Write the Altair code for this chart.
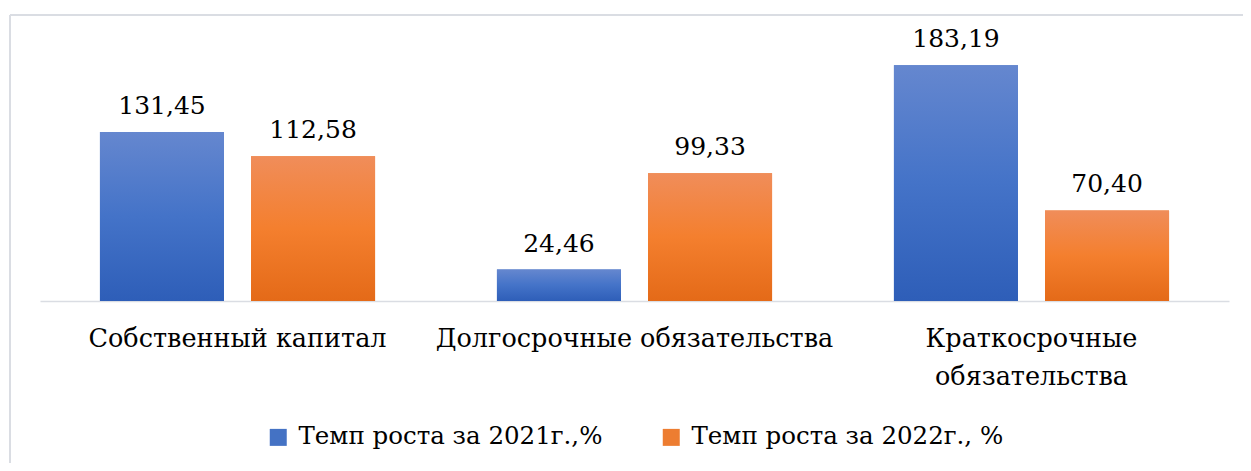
import altair as alt
import pandas as pd

categories = ["Собственный капитал", "Долгосрочные обязательства", "Краткосрочные обязательства"]
series = ["Темп роста за 2021г.,%", "Темп роста за 2022г., %"]
values_2021 = [131.45, 24.46, 183.19]
values_2022 = [112.58, 99.33, 70.40]

rows = []
for c, a, b in zip(categories, values_2021, values_2022):
    rows.append({"category": c, "series": series[0], "value": a})
    rows.append({"category": c, "series": series[1], "value": b})
df = pd.DataFrame(rows)

FONT = "DejaVu Serif"
BLUE = "#4472C4"
ORANGE = "#ED7D31"
FRAME = "#DADDE3"


def grad(top, mid, bottom):
    return alt.Gradient(
        gradient="linear",
        stops=[alt.GradientStop(color=top, offset=0),
               alt.GradientStop(color=mid, offset=0.5),
               alt.GradientStop(color=bottom, offset=1)],
        x1=0, x2=0, y1=0, y2=1)


blue_grad = grad("#6587CF", "#4473C8", "#2E5EB8")
orange_grad = grad("#F08D5A", "#F47F2E", "#E46A18")

x_enc = alt.X(
    "category:N", sort=categories,
    scale=alt.Scale(paddingInner=0.307, paddingOuter=0.151),
    axis=alt.Axis(title=None, labelFontSize=25.5, labelFont=FONT, labelColor="#000000",
                  labelAngle=0, domainColor=FRAME, domainWidth=1.5, ticks=False,
                  labelPadding=25, labelLimit=600, labelLineHeight=38,
                  labelExpr="datum.label == 'Краткосрочные обязательства' ? split(datum.label, ' ') : datum.label"))
xo_enc = alt.XOffset("series:N", sort=series,
                     scale=alt.Scale(domain=series, paddingInner=0.179, paddingOuter=0))
y_enc = alt.Y("value:Q", scale=alt.Scale(domain=[0, 220]), axis=None)

base_bars = alt.Chart(df).mark_bar().encode(
    x=x_enc, xOffset=xo_enc, y=y_enc,
    color=alt.Color("series:N", sort=series,
                    scale=alt.Scale(domain=series, range=[BLUE, ORANGE]),
                    legend=alt.Legend(title=None, orient="none", legendX=226, legendY=407,
                                      direction="horizontal", symbolType="square",
                                      symbolSize=289, symbolStrokeWidth=0,
                                      labelFont=FONT, labelFontSize=24.5, labelColor="#000000",
                                      columnPadding=56, labelOffset=8, labelLimit=600)))

blue_bars = alt.Chart(df).transform_filter(alt.datum.series == series[0]).mark_bar(
    color=blue_grad).encode(x=x_enc, xOffset=xo_enc, y=y_enc)
orange_bars = alt.Chart(df).transform_filter(alt.datum.series == series[1]).mark_bar(
    color=orange_grad).encode(x=x_enc, xOffset=xo_enc, y=y_enc)

labels = alt.Chart(df).transform_calculate(
    label="replace(format(datum.value, '.2f'), '.', ',')"
).mark_text(font=FONT, fontSize=25, baseline="alphabetic", dy=-18, color="#000000").encode(
    x=x_enc, xOffset=xo_enc, y=y_enc, text="label:N")

one = pd.DataFrame({"k": [0]})
frame_top = alt.Chart(one).mark_rule(color=FRAME, strokeWidth=2).encode(
    x=alt.value(-30), x2=alt.value(1230), y=alt.value(-3))
frame_left = alt.Chart(one).mark_rule(color=FRAME, strokeWidth=2).encode(
    x=alt.value(-30), y=alt.value(-3), y2=alt.value(460))

chart = alt.layer(frame_top, frame_left, base_bars, blue_bars, orange_bars, labels).properties(
    width=1189, height=283,
    background="white",
    autosize=alt.AutoSizeParams(type="none"),
    padding={"left": 32, "top": 10, "right": 14, "bottom": 162},
).configure_view(strokeWidth=0, stroke="transparent")

chart.save("out.html", embed_options={"renderer": "svg", "actions": False})
